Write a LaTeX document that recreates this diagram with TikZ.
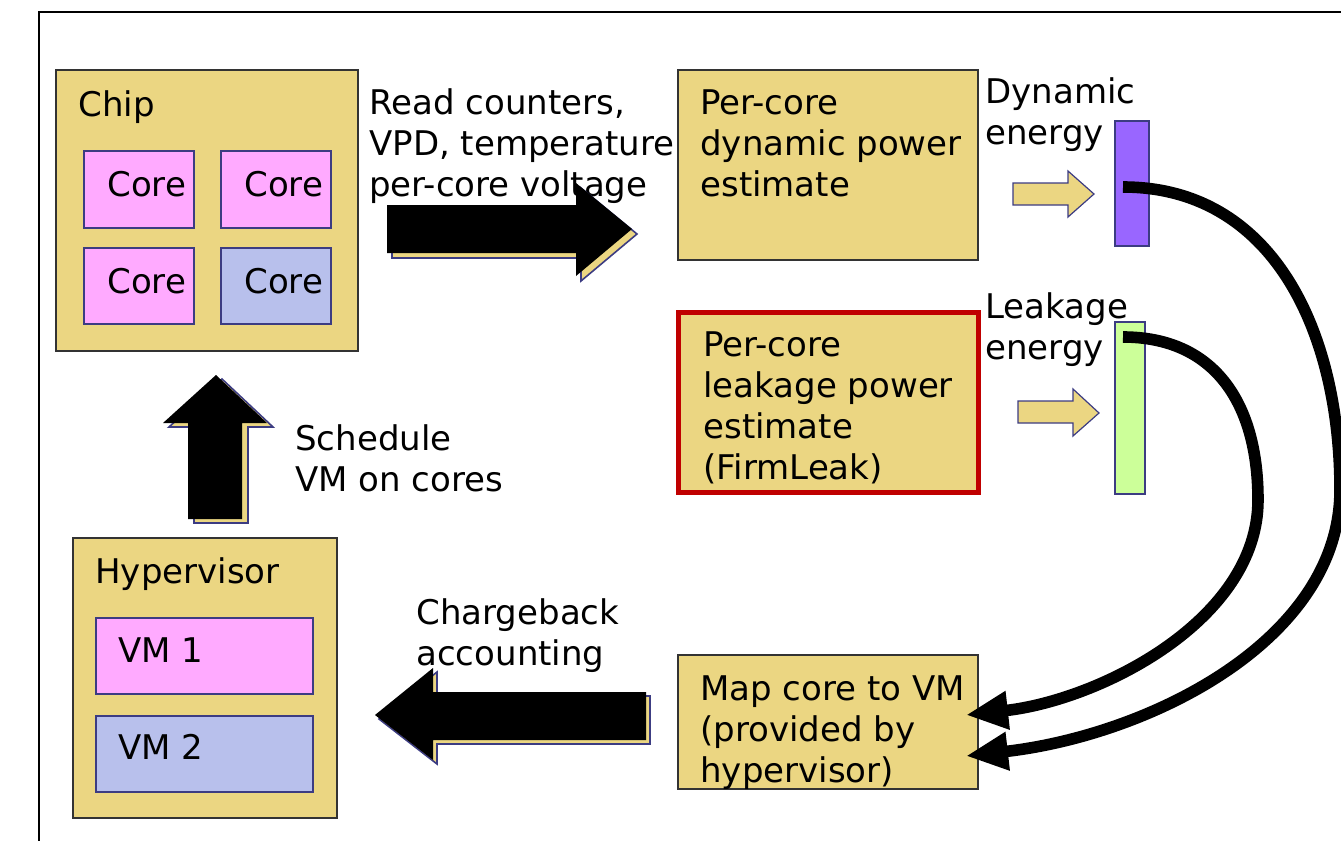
\documentclass[tikz,border=0pt]{standalone}
\usepackage{fontspec}
\setmainfont{DejaVu Sans}
\usetikzlibrary{arrows.meta}
\definecolor{boxtan}{RGB}{235,214,130}
\definecolor{corepink}{RGB}{255,170,255}
\definecolor{coreblue}{RGB}{184,192,236}
\definecolor{edgeblue}{RGB}{60,60,130}
\definecolor{dynpurple}{RGB}{153,102,255}
\definecolor{leakgreen}{RGB}{204,255,153}
\definecolor{firmred}{RGB}{192,0,0}
\tikzset{
  sized/.style 2 args={minimum width=#1*0.5pt, minimum height=#2*0.5pt},
  panel/.style={draw=black!80, fill=boxtan, line width=0.6pt, anchor=north west, inner sep=0pt, outer sep=0pt},
  pinkbox/.style={panel, fill=corepink, draw=edgeblue},
  bluebox/.style={panel, fill=coreblue, draw=edgeblue},
  bar/.style={panel, draw=edgeblue, line width=0.8pt},
  txt/.style={anchor=north west, inner sep=0pt, align=left, font=\fontsize{17}{20.5}\selectfont},
  bigarrow/.style={fill=black},
  arrowshadow/.style={fill=boxtan, draw=edgeblue, line width=0.8pt},
  smallarrow/.style={fill=boxtan, draw=edgeblue, line width=0.6pt},
  energyline/.style={line width=5.8pt, -{Triangle[length=21pt,width=18pt]}}
}

\begin{document}
\begin{tikzpicture}[x=0.5pt,y=-0.5pt]
  \useasboundingbox (0,0) rectangle (1341,841);
  % outer frame
  \draw[line width=1pt] (39,850) |- (1350,12);

  % chip with its cores
  \node[panel, sized={302}{281}] (chip) at (56,70) {};
  \node[txt] (chiplbl) at ([shift={(22,20)}]chip.north west) {Chip};
  \node[pinkbox, sized={110}{77}] (core1) at (84,151) {};
  \node[pinkbox, sized={110}{77}] (core2) at (221,151) {};
  \node[pinkbox, sized={110}{76}] (core3) at (84,248) {};
  \node[bluebox, sized={110}{76}] (core4) at (221,248) {};
  \foreach \c in {core1,core2,core3,core4}
    \node[txt] (\c lbl) at ([shift={(23,20)}]\c.north west) {Core};

  % hypervisor with its VMs
  \node[panel, sized={264}{280}] (hyper) at (73,538) {};
  \node[txt] (hyperlbl) at ([shift={(22,19)}]hyper.north west) {Hypervisor};
  \node[pinkbox, sized={217}{76}] (vm1) at (96,618) {};
  \node[txt] (vm1lbl) at ([shift={(22,19)}]vm1.north west) {VM 1};
  \node[bluebox, sized={217}{76}] (vm2) at (96,716) {};
  \node[txt] (vm2lbl) at ([shift={(22,18)}]vm2.north west) {VM 2};

  % estimators
  \node[panel, sized={300}{190}] (dynest) at (678,70) {};
  \node[txt] (dynlbl) at ([shift={(22,19)}]dynest.north west) {Per-core\\dynamic power\\estimate};
  \node[panel, draw=firmred, line width=2.5pt, sized={300}{180}] (leakest) at (678,312) {};
  \node[txt] (leaklbl) at ([shift={(25,19)}]leakest.north west) {Per-core\\leakage power\\estimate\\(FirmLeak)};
  \node[panel, sized={300}{134}] (mapvm) at (678,655) {};
  \node[txt] (maplbl) at ([shift={(22,20)}]mapvm.north west) {Map core to VM\\(provided by\\hypervisor)};

  % energy bars
  \node[bar, fill=dynpurple, sized={34}{125}] (dynbar) at (1115,121) {};
  \node[txt] (dynelbl) at ([shift={(-130,-44)}]dynbar.north west) {Dynamic\\energy};
  \node[bar, fill=leakgreen, sized={30}{172}] (leakbar) at (1115,322) {};
  \node[txt] (leakelbl) at ([shift={(-130,-30)}]leakbar.north west) {Leakage\\energy};

  % arrow labels
  \node[txt] (readlbl) at ([shift={(11,18)}]chip.north east) {Read counters,\\VPD, temperature\\per-core voltage};
  \node[txt] (schedlbl) at (295,424) {Schedule\\VM on cores};
  \node[txt] (chargelbl) at (416,598) {Chargeback\\accounting};

  % block arrows
  \draw[arrowshadow, shift={(5,5)}] (387,205) -- (576,205) -- (576,183) -- (632,229) -- (576,276) -- (576,253) -- (387,253) -- cycle;
  \fill[bigarrow] (387,205) -- (576,205) -- (576,183) -- (632,229) -- (576,276) -- (576,253) -- (387,253) -- cycle;
  \draw[arrowshadow, shift={(6,4)}] (188,519) -- (188,423) -- (163,423) -- (216,375) -- (267,423) -- (242,423) -- (242,519) -- cycle;
  \fill[bigarrow] (188,519) -- (188,423) -- (163,423) -- (216,375) -- (267,423) -- (242,423) -- (242,519) -- cycle;
  \draw[arrowshadow, shift={(4,4)}] (646,692) -- (433,692) -- (433,668) -- (375,715) -- (433,760) -- (433,740) -- (646,740) -- cycle;
  \fill[bigarrow] (646,692) -- (433,692) -- (433,668) -- (375,715) -- (433,760) -- (433,740) -- (646,740) -- cycle;

  % small arrows into the bars
  \draw[smallarrow] (1013,183) -- (1068,183) -- (1068,171) -- (1094,194) -- (1068,217) -- (1068,205) -- (1013,205) -- cycle;
  \draw[smallarrow] (1018,401) -- (1073,401) -- (1073,389) -- (1099,413) -- (1073,436) -- (1073,423) -- (1018,423) -- cycle;

  % energy to the core/VM map
  \coordinate (dynout) at (1123,187);
  \coordinate (dynturn) at (1340,490);
  \coordinate (leakout) at (1123,337);
  \coordinate (leakturn) at (1258,500);
  \coordinate (mapin1) at (966,715);
  \coordinate (mapin2) at (966,756);
  \draw[energyline] (leakout) .. controls (1212,337) and (1258,400) .. (leakturn)
    .. controls (1258,620) and (1100,700) .. (mapin1);
  \draw[energyline] (dynout) .. controls (1272,187) and (1340,330) .. (dynturn)
    .. controls (1340,640) and (1150,735) .. (mapin2);
\end{tikzpicture}
\end{document}
